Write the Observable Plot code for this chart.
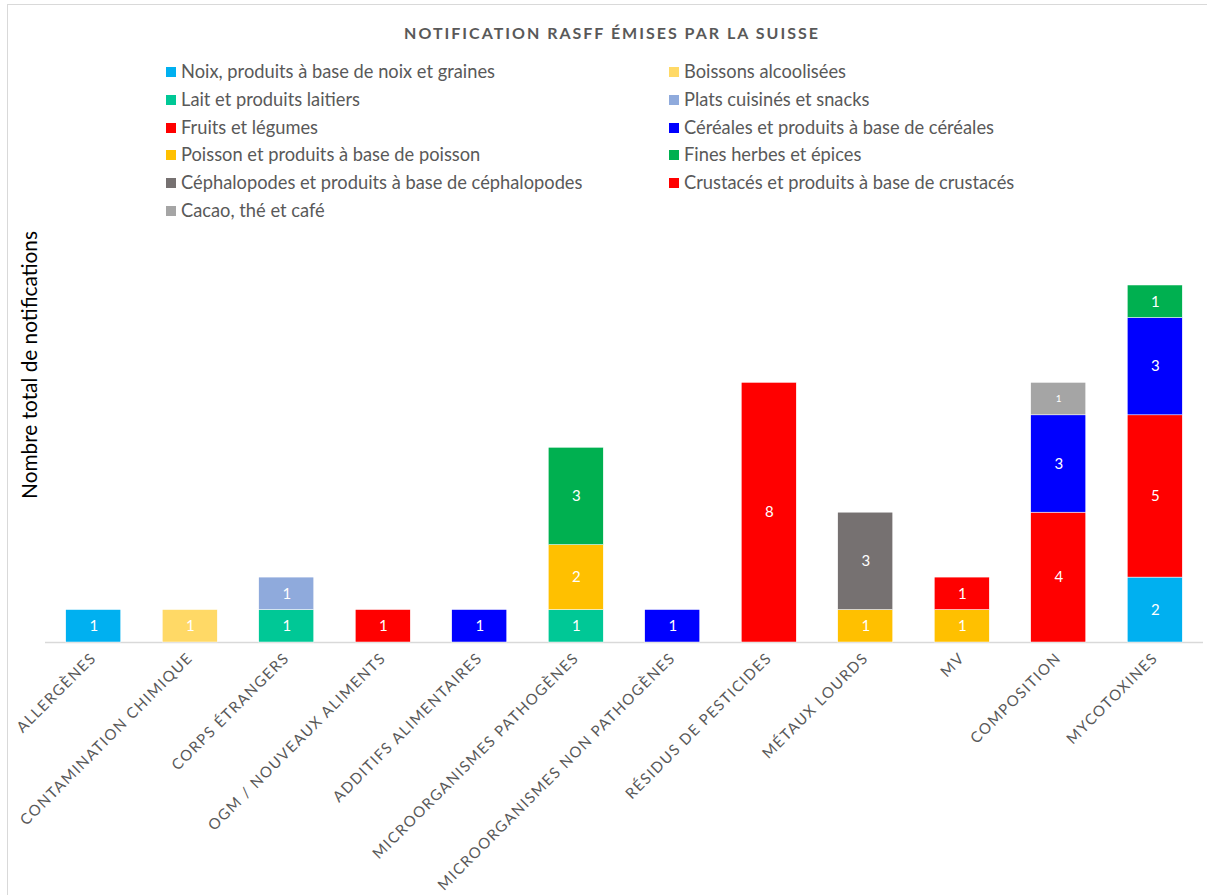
<!DOCTYPE html>
<html><head><meta charset="utf-8">
<script src="https://cdn.jsdelivr.net/npm/d3@7"></script>
<script src="https://cdn.jsdelivr.net/npm/@observablehq/plot@0.6"></script>
<style>
body{margin:0;background:#fff;font-family:Lato,"Open Sans",sans-serif;}
#wrap{position:relative;width:1207px;height:895px;overflow:hidden;}
#border{position:absolute;left:7px;top:4px;width:1210px;height:900px;border:1px solid #d9d9d9;box-sizing:border-box;}
#title{position:absolute;left:0;width:1224px;top:23px;text-align:center;font-size:16px;font-weight:bold;letter-spacing:2px;color:#595959;}
.leg{position:absolute;font-size:18.3px;color:#595959;white-space:nowrap;}
.leg span{display:inline-block;width:10px;height:10px;margin-right:5px;vertical-align:1px;}
#ylab{position:absolute;left:28px;top:365px;transform:translate(-50%,-50%) rotate(-90deg);font-size:20.8px;color:#000;white-space:nowrap;}
#chart{position:absolute;left:0;top:230px;}
</style></head>
<body><div id="wrap"><div id="border"></div><div id="title">NOTIFICATION RASFF ÉMISES PAR LA SUISSE</div>
<div id="legend"></div><div id="ylab">Nombre total de notifications</div><div id="chart"></div></div>
<script>
const categories = ["ALLERGÈNES","CONTAMINATION CHIMIQUE","CORPS ÉTRANGERS","OGM / NOUVEAUX ALIMENTS","ADDITIFS ALIMENTAIRES","MICROORGANISMES PATHOGÈNES","MICROORGANISMES NON PATHOGÈNES","RÉSIDUS DE PESTICIDES","MÉTAUX LOURDS","MV","COMPOSITION","MYCOTOXINES"];
const seriesNames = ["Noix, produits à base de noix et graines","Boissons alcoolisées","Lait et produits laitiers","Plats cuisinés et snacks","Fruits et légumes","Céréales et produits à base de céréales","Poisson et produits à base de poisson","Fines herbes et épices","Céphalopodes et produits à base de céphalopodes","Crustacés et produits à base de crustacés","Cacao, thé et café"];
const seriesColors = ["#00B0F0","#FFD966","#00C896","#8FAADC","#FF0000","#0000FF","#FFC000","#00B050","#767171","#FF0000","#A5A5A5"];
const noix        = [1,0,0,0,0,0,0,0,0,0,0,2];
const boissons    = [0,1,0,0,0,0,0,0,0,0,0,0];
const lait        = [0,0,1,0,0,1,0,0,0,0,0,0];
const plats       = [0,0,1,0,0,0,0,0,0,0,0,0];
const fruits      = [0,0,0,1,0,0,0,8,0,0,4,5];
const cereales    = [0,0,0,0,1,0,1,0,0,0,3,3];
const poisson     = [0,0,0,0,0,2,0,0,1,1,0,0];
const herbes      = [0,0,0,0,0,3,0,0,0,0,0,1];
const cephalopodes= [0,0,0,0,0,0,0,0,3,0,0,0];
const crustaces   = [0,0,0,0,0,0,0,0,0,1,0,0];
const cacao       = [0,0,0,0,0,0,0,0,0,0,1,0];
const seriesValues = [noix,boissons,lait,plats,fruits,cereales,poisson,herbes,cephalopodes,crustaces,cacao];

const data = [];
seriesNames.forEach((s,i)=>categories.forEach((c,j)=>{ if(seriesValues[i][j]>0) data.push({cat:c, series:s, value:seriesValues[i][j]}); }));

// legend
const leg = document.getElementById("legend");
seriesNames.forEach((s,i)=>{
  const d=document.createElement("div"); d.className="leg";
  const col=i%2,row=Math.floor(i/2);
  d.style.left=(col? 669:166)+"px"; d.style.top=(60+row*27.8)+"px";
  d.innerHTML=`<span style="background:${seriesColors[i]}"></span>${s}`;
  leg.appendChild(d);
});

const chart = Plot.plot({
  width:1207, height:665,
  marginLeft:45, marginRight:4, marginTop:55, marginBottom:253,
  style:{color:"#595959", fontFamily:"Lato, 'Open Sans', sans-serif", background:"transparent"},
  x:{domain:categories, paddingInner:0.43, paddingOuter:0.215, round:false, label:null},
  y:{domain:[0,11], axis:null},
  color:{domain:seriesNames, range:seriesColors},
  marks:[
    Plot.ruleY([0],{stroke:"#d9d9d9", strokeWidth:1.5}),
    Plot.barY(data, Plot.stackY({x:"cat", y:"value", fill:"series", order: seriesNames, stroke:"white", strokeWidth:0.5})),
    Plot.text(data, Plot.stackY({x:"cat", y:"value", z:"series", order: seriesNames, text:"value", fill:"white",
      fontSize: d=> d.series==="Cacao, thé et café" ? 10 : 15})),
    Plot.axisX({tickRotate:-45, tickSize:0, tickPadding:13, fontSize:15, label:null, fill:"#595959"})
  ]
});
d3.select(chart).selectAll("[aria-label='x-axis tick label'] text").style("letter-spacing","1.4px");
document.getElementById("chart").appendChild(chart);
</script></body></html>
